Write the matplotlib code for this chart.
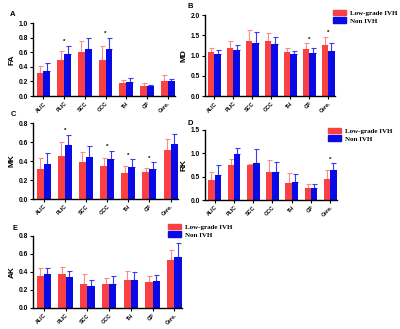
import matplotlib
matplotlib.use("Agg")
import matplotlib.pyplot as plt
from matplotlib.patches import Patch
import numpy as np

regions = ["ALIC", "PLIC", "SCC", "GCC", "TH", "GP", "Cere."]

# mean and mean+sd (top of error bar), low-grade IVH vs non IVH
fa_low = [0.31, 0.49, 0.60, 0.50, 0.175, 0.14, 0.20]
fa_low_top = [0.41, 0.62, 0.75, 0.68, 0.225, 0.18, 0.29]
fa_non = [0.345, 0.57, 0.645, 0.645, 0.19, 0.14, 0.20]
fa_non_top = [0.45, 0.69, 0.80, 0.80, 0.25, 0.15, 0.24]

md_low = [1.08, 1.19, 1.36, 1.35, 1.08, 1.16, 1.26]
md_low_top = [1.20, 1.36, 1.64, 1.55, 1.20, 1.30, 1.47]
md_non = [1.05, 1.13, 1.30, 1.29, 1.03, 1.07, 1.12]
md_non_top = [1.13, 1.27, 1.58, 1.46, 1.12, 1.20, 1.31]

mk_low = [0.32, 0.455, 0.39, 0.35, 0.275, 0.285, 0.52]
mk_low_top = [0.435, 0.60, 0.49, 0.43, 0.35, 0.33, 0.63]
mk_non = [0.365, 0.57, 0.44, 0.425, 0.335, 0.32, 0.575]
mk_non_top = [0.48, 0.675, 0.56, 0.51, 0.42, 0.39, 0.68]

rk_low = [0.43, 0.76, 0.76, 0.59, 0.36, 0.26, 0.45]
rk_low_top = [0.61, 0.88, 0.78, 0.85, 0.58, 0.34, 0.64]
rk_non = [0.53, 0.98, 0.80, 0.59, 0.38, 0.26, 0.64]
rk_non_top = [0.74, 1.11, 1.09, 0.81, 0.55, 0.34, 0.79]

ak_low = [0.35, 0.38, 0.27, 0.265, 0.315, 0.29, 0.53]
ak_low_top = [0.44, 0.455, 0.38, 0.33, 0.415, 0.36, 0.64]
ak_non = [0.375, 0.345, 0.245, 0.265, 0.315, 0.295, 0.57]
ak_non_top = [0.44, 0.41, 0.305, 0.355, 0.40, 0.365, 0.72]

RED = "#FA4042"
BLUE = "#0A0AE6"
RED_ERR = "#FF8A8A"
BLUE_ERR = "#3A3AF0"

plt.rcParams["font.family"] = ["Liberation Sans", "DejaVu Sans"]
plt.rcParams["font.weight"] = "bold"

W, H = 400, 329
fig = plt.figure(figsize=(4.0, 3.29), dpi=100)


def panel(rect, letter, letter_xy, ylabel, low, low_top, non, non_top, ymax, step, stars,
          legend=None):
    ax = fig.add_axes(rect)
    x = np.arange(len(regions))
    w = 0.33
    low = np.array(low); non = np.array(non)
    low_err = np.array(low_top) - low
    non_err = np.array(non_top) - non
    ax.bar(x - w / 2, low, w, color=RED, zorder=2)
    ax.bar(x + w / 2, non, w, color=BLUE, zorder=2)
    ax.errorbar(x - w / 2, low, yerr=[np.zeros_like(low), low_err], fmt="none",
                ecolor=RED_ERR, elinewidth=0.8, capsize=1.8, capthick=0.8, zorder=1)
    ax.errorbar(x + w / 2, non, yerr=[np.zeros_like(non), non_err], fmt="none",
                ecolor=BLUE_ERR, elinewidth=0.8, capsize=1.8, capthick=0.8, zorder=1)
    for i in stars:
        top = max(low_top[i], non_top[i])
        ax.text(x[i], top + ymax * 0.02, "*", ha="center", va="bottom", fontsize=4.5)
    ax.set_xlim(-0.5, 6.35)
    ax.set_ylim(0, ymax)
    ticks = np.arange(0, ymax + 1e-9, step)
    ax.set_yticks(ticks)
    ax.set_yticklabels(["%.1f" % v for v in ticks], fontsize=4.8)
    ax.set_xticks(x)
    ax.set_xticklabels(regions, rotation=45, ha="right", rotation_mode="anchor", fontsize=3.8)
    for s in ["top", "right"]:
        ax.spines[s].set_visible(False)
    for s in ["left", "bottom"]:
        ax.spines[s].set_linewidth(1.0)
    ax.tick_params(length=2.5, width=0.8, pad=1)
    ax.set_ylabel(ylabel, fontsize=6, fontweight="bold", labelpad=2)
    fig.text(letter_xy[0] / W, 1 - letter_xy[1] / H, letter, fontsize=5.5,
             fontweight="bold", ha="center", va="center")
    if legend is not None:
        handles = [Patch(color=RED, label="Low-grade IVH"), Patch(color=BLUE, label="Non IVH")]
        fig.legend(handles=handles, loc="upper left",
                   bbox_to_anchor=(legend[0] / W, 1 - legend[1] / H), frameon=False,
                   prop={"family": "Liberation Serif", "weight": "bold", "size": 5.0},
                   handlelength=1.9, handleheight=0.8, labelspacing=0.2, borderpad=0,
                   borderaxespad=0, handletextpad=0.5)
    return ax


panel([0.0825, 0.708, 0.355, 0.222], "A", (13, 15), "FA", fa_low, fa_low_top, fa_non,
      fa_non_top, 1.0, 0.2, [1, 3])
panel([0.5125, 0.708, 0.325, 0.246], "B", (190, 6), "MD", md_low, md_low_top, md_non,
      md_non_top, 2.0, 0.5, [5, 6], legend=(333, 10))
panel([0.0825, 0.395, 0.3625, 0.231], "C", (13, 114), "MK", mk_low, mk_low_top, mk_non,
      mk_non_top, 0.8, 0.2, [1, 3, 4, 5])
panel([0.5125, 0.392, 0.33, 0.213], "D", (190, 123), "RK", rk_low, rk_low_top, rk_non,
      rk_non_top, 1.5, 0.5, [6], legend=(328, 128))
panel([0.0825, 0.064, 0.3725, 0.219], "E", (15, 229), "AK", ak_low, ak_low_top, ak_non,
      ak_non_top, 0.8, 0.2, [], legend=(168, 224))

fig.savefig("out.png", dpi=100)
